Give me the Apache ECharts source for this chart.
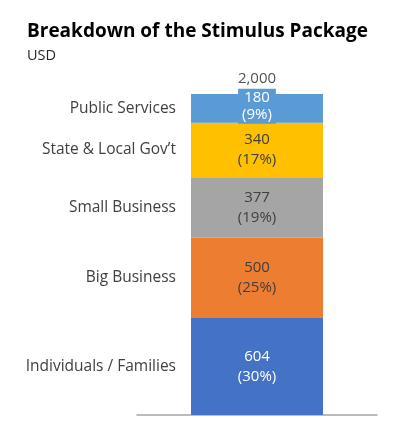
<!DOCTYPE html>
<html>
<head>
<meta charset="utf-8">
<script src="https://cdn.jsdelivr.net/npm/echarts@6/dist/echarts.min.js"></script>
<style>
  html, body { margin: 0; padding: 0; background: #fff; }
  #chart { width: 400px; height: 437px; }
</style>
</head>
<body>
<div id="chart"></div>
<script>
// segments from bottom to top
var segNames = ['Individuals / Families', 'Big Business', 'Small Business', "State & Local Gov\u2019t", 'Public Services']
var segValues = [604, 500, 377, 340, 180]
var segColors = ['#4472C4', '#ED7D31', '#A5A5A5', '#FFC000', '#5B9BD5']
var labelColors = ['#ffffff', '#404040', '#404040', '#404040', '#ffffff']
var total = 2000

var chart = echarts.init(document.getElementById('chart'))
var font = 'Open Sans'

var series = []
var cum = 0
segValues.forEach(function(v, i) {
  var mid = cum + v / 2
  cum += v
  var s = {
    name: segNames[i],
    type: 'bar',
    stack: 'all',
    barWidth: '55%',
    data: [v],
    itemStyle: { color: segColors[i] },
    label: {
      show: true,
      position: 'inside',
      color: labelColors[i],
      fontFamily: font,
      fontSize: 15,
      lineHeight: 20,
      formatter: function(p) {
        return p.value + '\n(' + Math.round(p.value / total * 100) + '%)'
      }
    },
    markPoint: {
      symbol: 'rect',
      symbolSize: 0,
      itemStyle: { color: 'transparent' },
      label: {
        show: true,
        position: 'left',
        distance: 81,
        color: '#404040',
        fontFamily: font,
        fontSize: 15.5,
        formatter: segNames[i]
      },
      data: [{ coord: [0, mid] }]
    }
  }
  if (i === segValues.length - 1) {
    // small top segment: label box spills over the bar top
    s.label.backgroundColor = segColors[i]
    s.label.lineHeight = 17
    s.label.padding = [1, 4, 0, 4]
    s.label.offset = [0, -2]
  }
  series.push(s)
})

// total on top of the stack
series.push({
  type: 'scatter',
  data: [total],
  symbolSize: 0,
  label: {
    show: true,
    position: 'top',
    distance: 8,
    color: '#262626',
    fontFamily: font,
    fontSize: 15,
    formatter: function(p) { return p.value.toLocaleString('en-US') }
  }
})

chart.setOption({
  animation: false,
  title: {
    text: 'Breakdown of the Stimulus Package',
    subtext: 'USD',
    left: 22,
    top: 17,
    itemGap: 7,
    textStyle: { fontFamily: font, fontWeight: 'bold', fontSize: 19, color: '#000' },
    subtextStyle: { fontFamily: font, fontSize: 14.5, color: '#262626' }
  },
  grid: { left: 137, right: 23, top: 94, bottom: 22 },
  xAxis: {
    type: 'category',
    data: [''],
    axisLine: { lineStyle: { color: '#A6A6A6', width: 1.5 } },
    axisTick: { show: false },
    axisLabel: { show: false }
  },
  yAxis: {
    type: 'value',
    min: 0,
    max: total,
    show: false
  },
  series: series
})
</script>
</body>
</html>
